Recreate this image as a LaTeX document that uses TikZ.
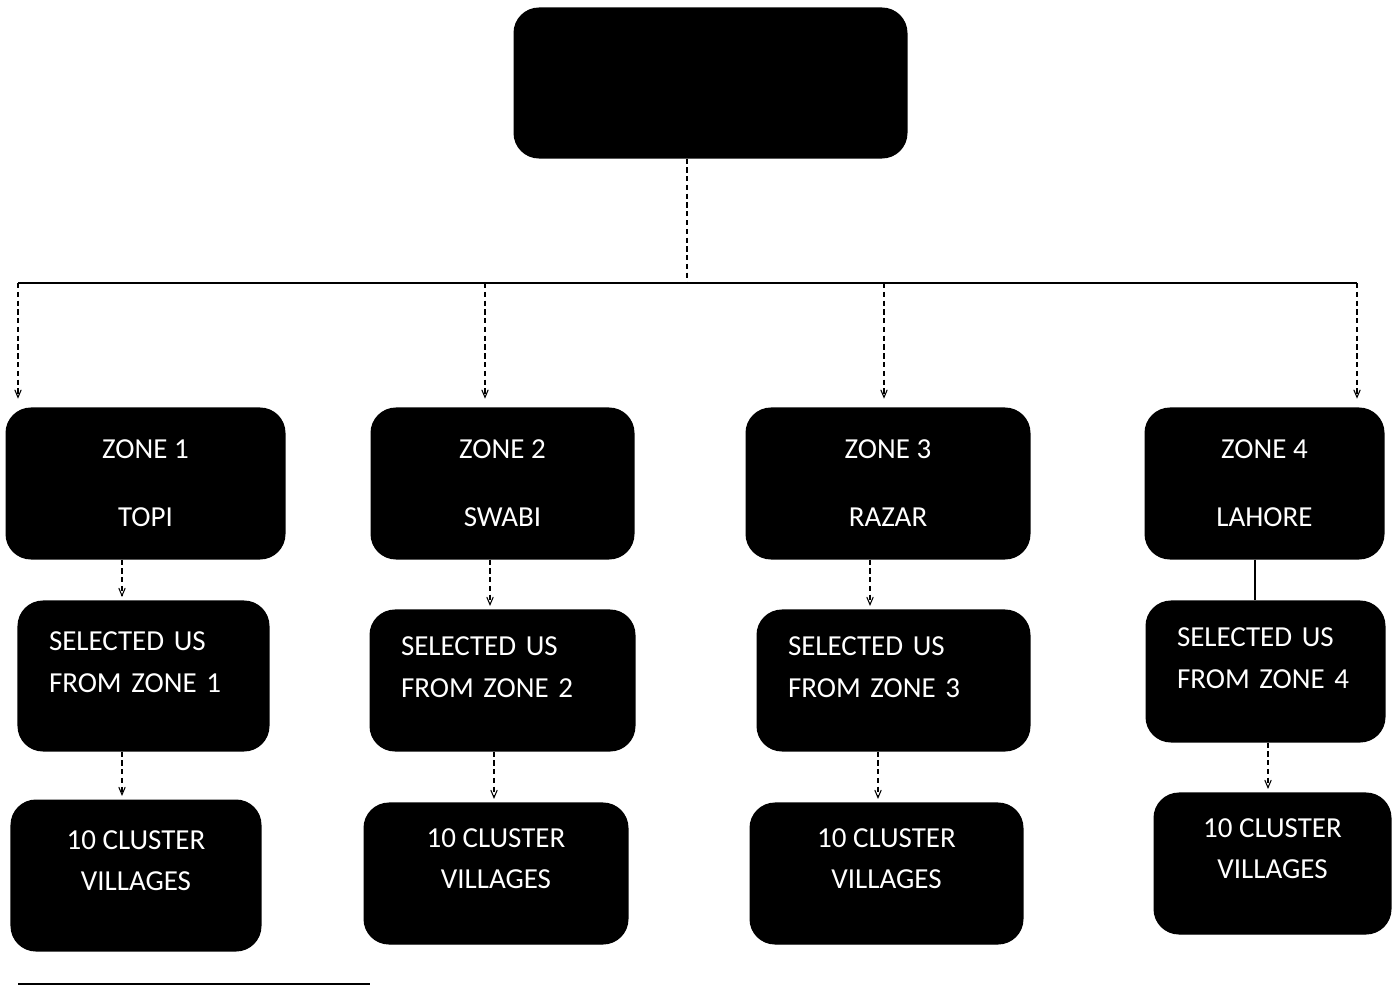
\documentclass[tikz,border=0pt]{standalone}
\usepackage{fontspec}
\setmainfont{Carlito}
\usetikzlibrary{arrows}
\tikzset{
    every picture/.style={
        semithick,>=angle 45,x=0.02cm,y=-0.02cm,
    },
    blk/.style={fill=black,draw=black,rounded corners=0.5cm,text=white,
        inner sep=0pt,font=\fontsize{16.5}{20}\selectfont},
    zone/.style={blk,align=center,minimum height=3.02cm},
    sel/.style={blk,align=left,inner xsep=0.62cm,text depth=1.39cm},
    clus/.style={blk,align=center,text depth=0.6cm},
    bus/.style={line width=1.2pt},
    link/.style={line width=0.6pt,densely dashed,->,shorten >=2pt},
}

\begin{document}
\begin{tikzpicture}
    \useasboundingbox (0,0) rectangle (1392,987);

    \node[blk,minimum width=7.86cm,minimum height=3cm] (top) at (710.5,83) {};

    \node[zone,minimum width=5.58cm] (z1) at (145.5,483.5) {ZONE 1\\[18.7pt]TOPI};
    \node[zone,minimum width=5.26cm] (z2) at (502.5,483.5) {ZONE 2\\[18.7pt]SWABI};
    \node[zone,minimum width=5.68cm] (z3) at (888,483.5)   {ZONE 3\\[18.7pt]RAZAR};
    \node[zone,minimum width=4.78cm] (z4) at (1264.5,483.5) {ZONE 4\\[18.7pt]LAHORE};

    \node[sel,text width=3.78cm,minimum height=3cm]    (s1) at (143.5,676)   {SELECTED US\\[3.9pt]FROM ZONE 1};
    \node[sel,text width=4.06cm,minimum height=2.82cm] (s2) at (502.5,680.5) {SELECTED US\\[3.9pt]FROM ZONE 2};
    \node[sel,text width=4.22cm,minimum height=2.82cm] (s3) at (893.5,680.5) {SELECTED US\\[3.9pt]FROM ZONE 3};
    \node[sel,text width=3.54cm,minimum height=2.82cm] (s4) at (1265.5,671.5) {SELECTED US\\[3.9pt]FROM ZONE 4};

    \node[clus,minimum width=5cm,minimum height=3.02cm]    (c1) at (136,875.5)   {10 CLUSTER\\[3.5pt]VILLAGES};
    \node[clus,minimum width=5.28cm,minimum height=2.82cm] (c2) at (496,873.5)   {10 CLUSTER\\[3.5pt]VILLAGES};
    \node[clus,minimum width=5.46cm,minimum height=2.82cm] (c3) at (886.5,873.5) {10 CLUSTER\\[3.5pt]VILLAGES};
    \node[clus,minimum width=4.74cm,minimum height=2.82cm] (c4) at (1272.5,863.5) {10 CLUSTER\\[3.5pt]VILLAGES};

    % bus and drops
    \coordinate (t)  at (687,283);
    \coordinate (d1) at (18,283);
    \coordinate (d2) at (485,283);
    \coordinate (d3) at (884,283);
    \coordinate (d4) at (1357,283);
    \draw[link,-,shorten >=0pt] (top.south -| t) -- (t);
    \draw[bus] (d1) -- (d4);
    \foreach \d/\z in {d1/z1,d2/z2,d3/z3,d4/z4}
        \draw[link,shorten >=5pt] (\d) -- (\z.north -| \d);

    % zone to selected, selected to villages
    \foreach \a/\b/\x in {z1/s1/122,z2/s2/490,z3/s3/870}{
        \coordinate (k) at (\x,0);
        \draw[link] (\a.south -| k) -- (\b.north -| k);
    }
    \coordinate (k4) at (1255,0);
    \draw[line width=0.6pt] (z4.south -| k4) -- (s4.north -| k4);
    \foreach \a/\b/\x in {s1/c1/122,s2/c2/494,s3/c3/878,s4/c4/1268}{
        \coordinate (k) at (\x,0);
        \draw[link] (\a.south -| k) -- (\b.north -| k);
    }

    % rule at the foot
    \coordinate (f0) at (18,984);
    \coordinate (f1) at (370,984);
    \draw[line width=0.8pt] (f0) -- (f1);
\end{tikzpicture}
\end{document}
